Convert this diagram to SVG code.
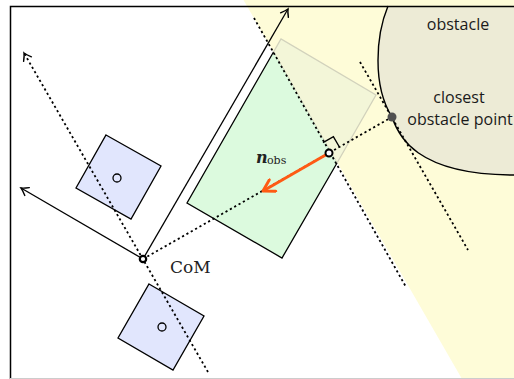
<svg xmlns="http://www.w3.org/2000/svg" width="514" height="379" viewBox="0 0 514 379">
<defs>
<marker id="ah" viewBox="-10 -6 12 12" markerWidth="12" markerHeight="12" refX="0" refY="0" orient="auto" markerUnits="userSpaceOnUse">
<path d="M-7,-4.5 Q-2.5,-1 0,0 Q-2.5,1 -7,4.5" fill="none" stroke="#000" stroke-width="1.4" stroke-linecap="round"/>
</marker>
<marker id="ahO" viewBox="-14 -8 16 16" markerWidth="16" markerHeight="16" refX="0" refY="0" orient="auto" markerUnits="userSpaceOnUse">
<path d="M-11,-6.5 L0,0 L-11,6.5" fill="none" stroke="#ff5a14" stroke-width="3" stroke-linecap="round" stroke-linejoin="round"/>
</marker>
</defs>
<style>
.dot{fill:none;stroke:#000;stroke-width:1.8;stroke-dasharray:2.2 2.8}
.sol{fill:none;stroke:#000;stroke-width:1.3}
.foot{fill:#e1e6fd;stroke:#000;stroke-width:1.3}
.lbl{font-family:"Open Sans",sans-serif;font-size:16px;fill:#1a1a1a;text-anchor:middle}
.ser{font-family:"DejaVu Serif","Liberation Serif",serif;fill:#222}
</style>
<rect width="514" height="379" fill="#fff"/>
<g id="free-region">
<polygon points="243.5,0 514,0 514,379 462,379" fill="#fefcd8"/>
</g>
<g id="obstacle">
<path d="M388,6 C376,35 372,85 392,117 C398,135 415,175 514,175 L514,6 Z" fill="#edebd6"/>
<path d="M388,6 C376,35 372,85 392,117 C398,135 415,175 514,175" fill="none" stroke="#000" stroke-width="1.4"/>
<text class="lbl" x="458" y="30">obstacle</text>
<text class="lbl" x="459" y="103">closest</text>
<text class="lbl" x="460" y="125">obstacle point</text>
</g>
<g id="frame">
<path d="M10.5,379 V6.5 H514" fill="none" stroke="#000" stroke-width="1.5"/>
<line x1="10" y1="378.5" x2="514" y2="378.5" stroke="#ccc" stroke-width="1"/>
</g>
<g id="robot-body">
<polygon points="273.5,52 281,39 376,95 337,163" fill="#f3f6d8" stroke="#d2d2bc" stroke-width="1.3"/>
<polygon points="273.5,52 187,203 282,258 337,163" fill="#dcfade"/>
<polyline points="273.5,52 187,203 282,258 337,163" class="sol"/>
</g>
<g id="foot-upper">
<polygon class="foot" points="106,135 161,166 131,219 76,188"/>
<circle cx="117" cy="178" r="4" fill="none" stroke="#000" stroke-width="1.3"/>
</g>
<g id="foot-lower">
<polygon class="foot" points="149,284 204,316 173,370 118,338"/>
<circle cx="162" cy="327" r="4" fill="none" stroke="#000" stroke-width="1.3"/>
</g>
<g id="connectors">
<line class="dot" x1="254" y1="18" x2="406" y2="287"/>
<line class="dot" x1="360" y1="62" x2="468" y2="250"/>
<line class="dot" x1="143" y1="259" x2="392" y2="117"/>
<line class="dot" x1="208" y1="372" x2="24" y2="53" marker-end="url(#ah)"/>
<line class="sol" x1="143" y1="259" x2="288" y2="9" marker-end="url(#ah)"/>
<line class="sol" x1="143" y1="259" x2="21" y2="188" marker-end="url(#ah)"/>
<path d="M339.4,147 L333.4,136.6 L323,142.6" fill="none" stroke="#000" stroke-width="1.4"/>
<line x1="329" y1="153" x2="263" y2="191" stroke="#ff5a14" stroke-width="3" marker-end="url(#ahO)"/>
</g>
<g id="points">
<circle cx="392" cy="117" r="4.5" fill="#505050"/>
<circle cx="329" cy="153" r="3.5" fill="#fff" stroke="#000" stroke-width="2"/>
<circle cx="143" cy="259" r="3.2" fill="#fff" stroke="#000" stroke-width="2.2"/>
</g>
<g id="labels">
<text class="ser" x="170" y="273" font-size="17">CoM</text>
<text class="ser" x="256" y="163" font-size="16" font-weight="bold" font-style="italic">n</text>
<text class="ser" x="267" y="164" font-size="11">obs</text>
</g>
</svg>
